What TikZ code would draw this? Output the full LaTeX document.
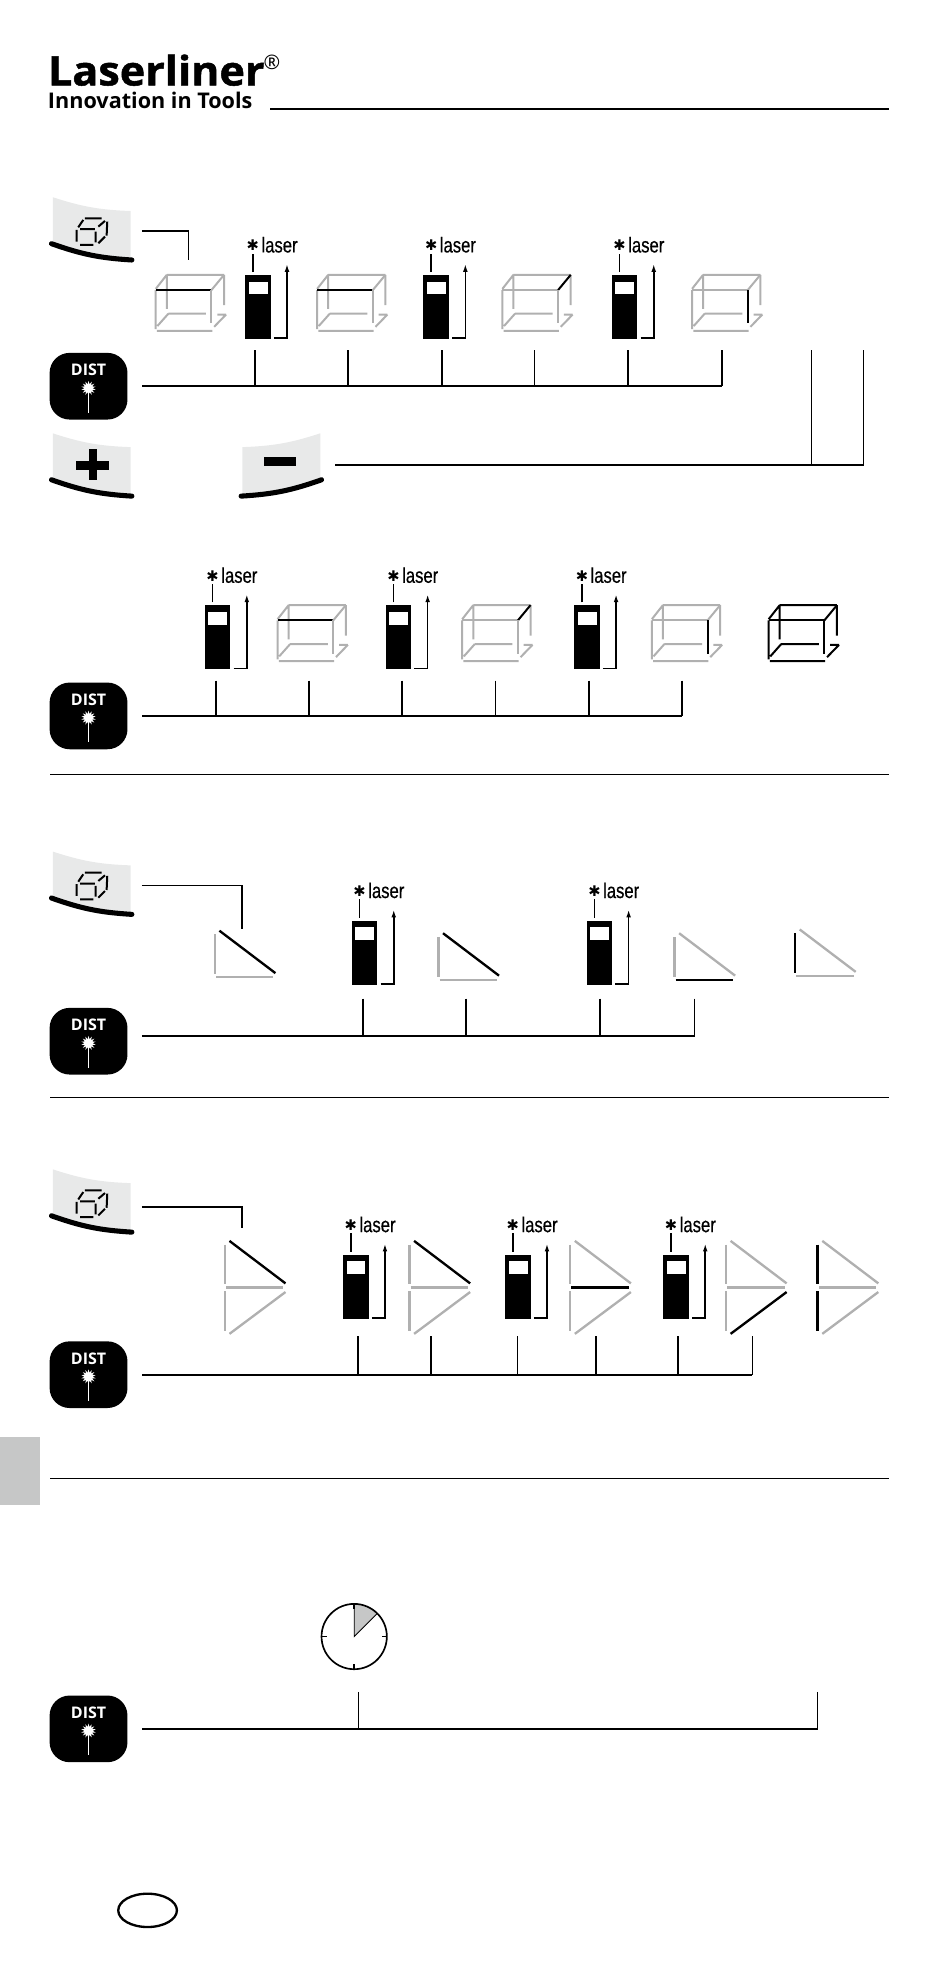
\documentclass[tikz,border=0pt]{standalone}
\usepackage{fontspec}
\setsansfont{Open Sans}
\newfontfamily\laserfont[FakeStretch=0.78,FakeBold=0.4]{Liberation Sans}
\newfontfamily\logofont[FakeStretch=1.06,FakeBold=1.2]{Open Sans}
\newfontfamily\markfont{DejaVu Sans}
\usetikzlibrary{arrows.meta,shapes.geometric}
\definecolor{keygray}{HTML}{E8E9E9}
\definecolor{linegray}{HTML}{B0B0B0}
\definecolor{tabgray}{HTML}{C6C7C7}
\tikzset{
	wire/.style={line width=1.25pt},
	rulewire/.style={line width=.8pt},
	pen/.style={line width=1.5pt},
	tripen/.style={line width=1.75pt},
	capkey/.style={line width=3.8pt,line cap=round},
	pics/keycap/.style={code={
		\fill[keygray] (0,0) to[bend right=8] (62,11) -- (62,48) to[bend left=8] (0,36) -- cycle;
		\draw[capkey] (-1,37) to[bend right=8] (63,50);
		\coordinate (-e) at (71,27);
	}},
	pics/minuscap/.style={code={
		\fill[keygray] (0,0) to[bend left=8] (-62,11) -- (-62,48) to[bend right=8] (0,36) -- cycle;
		\draw[capkey] (1,37) to[bend left=8] (-63,50);
		\fill (-44.5,19) rectangle (-19,26);
		\coordinate (-e) at (12,25);
	}},
	pics/cubeglyph/.style={code={
		\draw[pen] (25.6,16.8) -- (38.9,16.8) (21.7,25.5) -- (33.6,25.5) (19,26) -- (19,35.3) (34.1,27.4) -- (34.1,35.9)
			(21.7,38) -- (32.3,38) (20.3,24) -- (24.3,18.1) (36.3,23.4) -- (41.6,18.9) (43.4,19.4) -- (42.9,30.6) (36.3,36.7) -- (41.6,31.4);
	}},
	pics/plusglyph/.style={code={
		\fill (18.5,22) rectangle (45,29);
		\fill (28.5,12.5) rectangle (35,37.5);
	}},
	pics/distkey/.style={code={
		\node[fill=black,minimum width=58.4pt,minimum height=50pt,rounded corners=15pt,inner sep=0pt] (-k) at (0,0) {};
		\node[white,font=\sffamily\bfseries\fontsize{12}{12}\selectfont,inner sep=0pt] (-t) at (0,-13) {DIST};
		\node[star,star points=14,star point ratio=1.8,fill=white,minimum size=11pt,inner sep=0pt] (-s) at (0,1.6) {};
		\draw[white,line width=.8pt] (-s.center) -- (0,21);
	}},
	pics/meter/.style={code={
		\fill (0,0) rectangle (20.5,51);
		\fill[white] (3,5.3) rectangle (18,15.3);
		\draw[wire] (6.3,-2.4) -- (6.3,-17);
		\node[inner sep=0pt,font=\markfont\fontsize{11}{11}\selectfont] (-m) at (6.3,-23.5) {✱};
		\node[inner sep=0pt,anchor=base west,font=\laserfont\fontsize{16}{16}\selectfont] (-l) at (13,-18) {laser};
		\draw[wire,-{Latex[length=6pt,width=3.5pt]}] (23,50.3) -- (33.5,50.3) -- (33.5,-9);
	}},
	pics/boxcube/.style n args={4}{code={
		\draw[pen,#1] (8.8,-12.2) -- (54.4,-12.2) (0,-1) -- (8.8,-12.2) (0,0) -- (0,31)
			(8.8,-12.2) -- (8.8,15) (54.4,-12.2) -- (54.4,12) (1.3,28.6) -- (10,18.8)
			(10,18.8) -- (40,18.8) (46.5,29.2) -- (56,19.4) (49,19.4) -- (56,19.4) (1,32.4) -- (45,32.4);
		\draw[pen,#2] (0,0) -- (44.3,0);
		\draw[pen,#3] (44.3,0) -- (54.4,-12.2);
		\draw[pen,#4] (44.3,0) -- (44.3,26.5);
	}},
	pics/halftri/.style n args={3}{code={
		\draw[tripen,#1] (0,-34) -- (0,-2.4);
		\draw[tripen,#2] (1,0) -- (46.7,0);
		\draw[tripen,#3] (3.7,-37) -- (48.3,-3.2);
	}},
	pics/fulltri/.style n args={5}{code={
		\pic {halftri={#1}{#3}{#2}};
		\draw[tripen,#4] (0,2.9) -- (0,34.5);
		\draw[tripen,#5] (3.7,37) -- (48.3,3.7);
	}},
}

\begin{document}
\begin{tikzpicture}[x=.942pt,y=-.942pt]
	\useasboundingbox (0,0) rectangle (756.4,1568.5);

	% logo
	\node[inner sep=0pt,anchor=base west,font=\logofont\bfseries\fontsize{30.5}{30}\selectfont] (logo) at (38,68) {Laserliner};
	\node[inner sep=0pt,anchor=base west,font=\sffamily\bfseries\fontsize{16.2}{16}\selectfont] (slogan) at (38,86.5) {Innovation in Tools};
	\node[inner sep=0pt,font=\sffamily\fontsize{15}{15}\selectfont] (regmark) at (216.5,50) {®};
	\coordinate (headL) at (215,87);
	\coordinate (headR) at (708,87);
	\draw[wire] (headL) -- (headR);

	% first row
	\pic (cubeA) at (42,157) {keycap};
	\pic at (42,157) {cubeglyph};
	\coordinate (cA) at (150,207);
	\draw[wire] (cubeA-e |- 0,184) -- (cA |- 0,184) -- (cA);
	\pic at (124,231) {boxcube={linegray}{black}{linegray}{linegray}};
	\pic at (195,219) {meter};
	\pic at (252.5,231) {boxcube={linegray}{black}{linegray}{linegray}};
	\pic at (337,219) {meter};
	\pic at (400,231) {boxcube={linegray}{linegray}{black}{linegray}};
	\pic at (487,219) {meter};
	\pic at (551,231) {boxcube={linegray}{linegray}{linegray}{black}};
	\pic (distA) at (70.5,307.5) {distkey};
	\foreach \x [count=\i] in {203,277,352,425.5,500,575} {
		\coordinate (tA\i) at (\x,279);
		\draw[wire] (tA\i) -- (tA\i |- distA-k.east);
	}
	\draw[wire] ([xshift=10.8pt]distA-k.east) -- (tA6 |- distA-k.east);

	% plus and minus
	\pic (plusA) at (42,345) {keycap};
	\pic at (42,345) {plusglyph};
	\pic (minusA) at (255,345) {minuscap};
	\coordinate (uA) at (646,279);
	\coordinate (uB) at (687.5,279);
	\draw[wire] (minusA-e |- 0,370) -- (uB |- 0,370) -- (uB);
	\draw[wire] (uA |- 0,370) -- (uA);

	% second row
	\pic at (163,482) {meter};
	\pic at (221,494) {boxcube={linegray}{black}{linegray}{linegray}};
	\pic at (307,482) {meter};
	\pic at (368,494) {boxcube={linegray}{linegray}{black}{linegray}};
	\pic at (457,482) {meter};
	\pic at (519,494) {boxcube={linegray}{linegray}{linegray}{black}};
	\pic at (612,494) {boxcube={black}{black}{black}{black}};
	\pic (distB) at (70.5,570) {distkey};
	\foreach \x [count=\i] in {172,246,320,394.5,469,543} {
		\coordinate (tB\i) at (\x,542);
		\draw[wire] (tB\i) -- (tB\i |- distB-k.east);
	}
	\draw[wire] ([xshift=10.8pt]distB-k.east) -- (tB6 |- distB-k.east);
	\coordinate (sepAL) at (40,617);
	\coordinate (sepAR) at (708,617);
	\draw[rulewire] (sepAL) -- (sepAR);

	% third row
	\pic (cubeB) at (42,678) {keycap};
	\pic at (42,678) {cubeglyph};
	\coordinate (cB) at (192.5,740);
	\draw[wire] (cubeB-e |- 0,705) -- (cB |- 0,705) -- (cB);
	\pic at (171,778) {halftri={linegray}{linegray}{black}};
	\pic at (280,733) {meter};
	\pic at (349,780) {halftri={linegray}{linegray}{black}};
	\pic at (467,733) {meter};
	\pic at (537,780) {halftri={linegray}{black}{linegray}};
	\pic at (633,777) {halftri={black}{linegray}{linegray}};
	\pic (distC) at (70.5,829) {distkey};
	\coordinate (lC) at (113,825);
	\foreach \x [count=\i] in {289,371,477.5,553} {
		\coordinate (tC\i) at (\x,795);
		\draw[wire] (tC\i) -- (tC\i |- lC);
	}
	\draw[wire] (lC) -- (tC4 |- lC);
	\coordinate (sepBL) at (40,874);
	\coordinate (sepBR) at (708,874);
	\draw[rulewire] (sepBL) -- (sepBR);

	% fourth row
	\pic (cubeC) at (42,931) {keycap};
	\pic at (42,931) {cubeglyph};
	\coordinate (cC) at (192.5,978);
	\draw[wire] (cubeC-e |- 0,961) -- (cC |- 0,961) -- (cC);
	\pic at (179,1025) {fulltri={linegray}{black}{linegray}{linegray}{linegray}};
	\pic at (273,999) {meter};
	\pic at (326,1025) {fulltri={linegray}{black}{linegray}{linegray}{linegray}};
	\pic at (402,999) {meter};
	\pic at (454,1025) {fulltri={linegray}{linegray}{black}{linegray}{linegray}};
	\pic at (528,999) {meter};
	\pic at (578,1025) {fulltri={linegray}{linegray}{linegray}{linegray}{black}};
	\pic at (651,1025) {fulltri={black}{linegray}{linegray}{black}{linegray}};
	\pic (distD) at (70.5,1094.5) {distkey};
	\foreach \x [count=\i] in {285,343,412,474.5,540,599} {
		\coordinate (tD\i) at (\x,1064);
		\draw[wire] (tD\i) -- (tD\i |- distD-k.east);
	}
	\draw[wire] ([xshift=10.8pt]distD-k.east) -- (tD6 |- distD-k.east);
	\fill[tabgray] (0,1144) rectangle (32,1198);
	\coordinate (sepCL) at (40,1177);
	\coordinate (sepCR) at (708,1177);
	\draw[rulewire] (sepCL) -- (sepCR);

	% timer
	\coordinate (clock) at (282,1303);
	\fill[tabgray] (clock) -- (282,1277) arc[start angle=-90,end angle=-45,radius=26] -- cycle;
	\draw[line width=.6pt] (282,1277) -- (clock) -- ++(18.4,-18.4);
	\draw[wire] (clock) circle[radius=26];
	\foreach \a in {0,90,180,270}
		\draw[wire] (clock) ++(\a:22) -- ++(\a:4);
	\pic (distE) at (70.5,1376.5) {distkey};
	\foreach \x [count=\i] in {285.5,651} {
		\coordinate (tE\i) at (\x,1347);
		\draw[wire] (tE\i) -- (tE\i |- distE-k.east);
	}
	\draw[wire] ([xshift=10.8pt]distE-k.east) -- (tE2 |- distE-k.east);
	\node[ellipse,draw,line width=1.75pt,minimum width=44pt,minimum height=25pt,inner sep=0pt] (badge) at (117.5,1521) {};
\end{tikzpicture}
\end{document}
